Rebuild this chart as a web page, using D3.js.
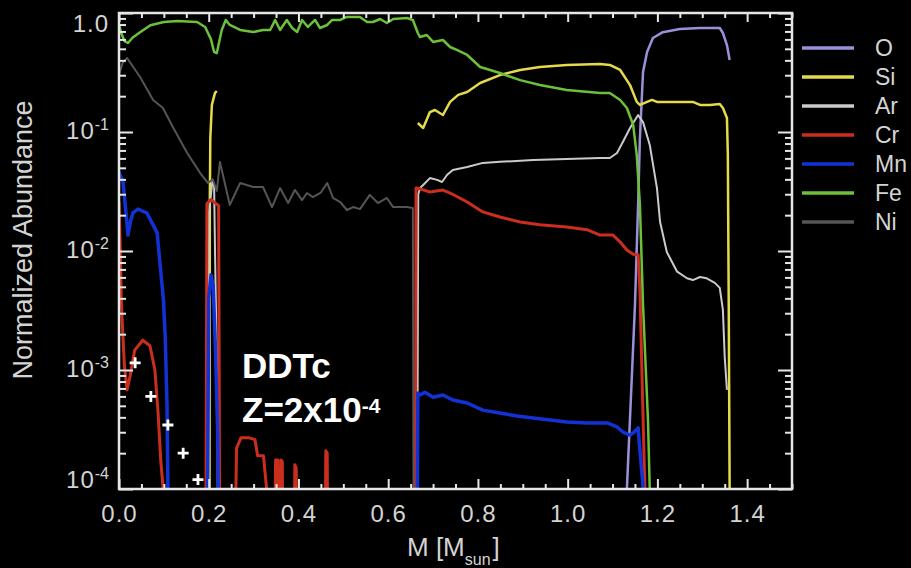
<!DOCTYPE html>
<html>
<head>
<meta charset="utf-8">
<script src="https://cdn.jsdelivr.net/npm/d3@7"></script>
<style>
  body { margin: 0; background: #000; }
  svg { display: block; }
</style>
</head>
<body>
<svg id="chart" width="911" height="568"></svg>
<script>
// Element abundance profiles vs. enclosed mass, [M (Msun), normalized abundance]
const elements = ["O", "Si", "Ar", "Cr", "Mn", "Fe", "Ni"];
const elementColors = ["#9d90d8", "#e4da4a", "#cacaca", "#cc2e1e", "#1232d6", "#6cc03a", "#555555"];
const lineWidths = [2.5, 2.5, 2, 3, 3.5, 2.5, 2];

const oAbund = [[1.128,1e-5],[1.132,1e-4],[1.15,3.5e-3],[1.157,0.0244],[1.161,0.089],[1.168,0.319],[1.177,0.47],
  [1.19,0.617],[1.212,0.69],[1.25,0.734],[1.295,0.748],[1.339,0.748],[1.346,0.679],[1.355,0.538],[1.361,0.403]];

const siAbund = [[0.2015,1e-5],[0.2025,0.03],[0.203,0.046],[0.2035,0.089],[0.207,0.169],[0.214,0.213],[0.218,0.221],
  [0.22,null],
  [0.666,0.119],[0.678,0.108],[0.693,0.147],[0.704,0.153],[0.722,0.139],[0.738,0.179],[0.756,0.205],[0.776,0.217],
  [0.805,0.258],[0.849,0.301],[0.894,0.332],[0.938,0.352],[0.998,0.366],[1.072,0.373],[1.094,0.366],[1.117,0.332],
  [1.139,0.248],[1.154,0.179],[1.161,0.169],[1.177,0.179],[1.188,0.186],[1.199,0.179],[1.235,0.179],[1.279,0.179],
  [1.295,0.169],[1.317,0.169],[1.339,0.172],[1.346,0.159],[1.355,0.131],[1.357,0.064],[1.359,3.5e-3],[1.361,1e-4],[1.363,1e-5]];

const arAbund = [[0.19,1e-5],[0.196,1e-5],[0.2,0.02],[0.208,0.038],[0.212,0.035],[0.214,0.01],[0.218,1.2e-3],[0.222,1e-5],
  [0.664,1e-5],[0.667,0.03],[0.671,0.0338],[0.678,0.0359],[0.693,0.041],[0.709,0.0396],[0.72,0.038],[0.731,0.0435],
  [0.744,0.048],[0.776,0.0508],[0.811,0.055],[0.849,0.0561],[0.923,0.0582],[0.998,0.0592],[1.072,0.0605],[1.094,0.0605],
  [1.11,0.0666],[1.123,0.0824],[1.139,0.108],[1.157,0.139],[1.168,0.121],[1.183,0.0778],[1.199,0.0338],[1.206,0.0175],
  [1.221,9.8e-3],[1.244,6.7e-3],[1.266,5.9e-3],[1.279,5.7e-3],[1.295,6.05e-3],[1.31,5.9e-3],[1.328,5.4e-3],[1.339,4.9e-3],
  [1.346,3.2e-3],[1.35,1.29e-3],[1.355,6.8e-4]];

const crAbund = [[0,0.026],[0.003,0.01],[0.005,4e-3],[0.008,2.2e-3],[0.012,1.1e-3],[0.018,6.8e-4],[0.025,9e-4],[0.035,1.47e-3],
  [0.053,1.78e-3],[0.069,1.6e-3],[0.08,1e-3],[0.087,4.4e-4],[0.093,1.75e-4],[0.098,1.04e-4],[0.1,1e-5],
  [0.193,1e-5],[0.196,0.025],[0.205,0.027],[0.222,0.024],[0.225,1e-5],
  [0.256,1e-5],[0.262,2.2e-4],[0.272,2.7e-4],[0.288,2.7e-4],[0.303,2.6e-4],[0.309,1.9e-4],[0.322,1.9e-4],[0.329,1e-4],[0.331,1e-5],
  [0.346,1e-5],[0.349,1.75e-4],[0.354,1.75e-4],[0.356,1e-5],[0.358,1e-5],[0.361,1.75e-4],[0.364,1.7e-4],[0.366,1e-5],
  [0.389,1e-5],[0.392,1.6e-4],[0.395,1.5e-4],[0.397,1e-5],[0.458,1e-5],[0.461,2.1e-4],[0.464,2.0e-4],[0.466,1e-5],
  [0.66,1e-5],[0.662,0.0339],[0.664,0.0339],[0.693,0.0313],[0.722,0.0325],[0.738,0.0307],[0.776,0.0258],[0.811,0.0213],
  [0.849,0.0193],[0.894,0.0175],[0.938,0.0166],[0.998,0.0159],[1.043,0.0151],[1.072,0.0136],[1.101,0.0136],[1.117,0.0119],
  [1.132,0.0102],[1.146,9.4e-3],[1.157,9.3e-3],[1.161,4.7e-3],[1.172,1e-4],[1.174,1e-5]];

const mnAbund = [[0,0.046],[0.009,0.038],[0.015,0.022],[0.02,0.0136],[0.026,0.018],[0.031,0.0209],[0.042,0.0225],[0.062,0.0209],
  [0.085,0.0142],[0.091,8.1e-3],[0.099,3.9e-3],[0.103,1.9e-3],[0.107,5.1e-4],[0.109,1.04e-4],[0.11,1e-5],
  [0.196,1e-5],[0.2,4e-3],[0.205,6.3e-3],[0.21,5e-3],[0.215,1.5e-3],[0.22,3e-4],[0.223,1e-5],
  [0.664,1e-5],[0.666,6.4e-4],[0.671,6.17e-4],[0.682,6.5e-4],[0.7,5.9e-4],[0.722,6.17e-4],[0.744,5.6e-4],[0.776,5.28e-4],
  [0.811,4.6e-4],[0.849,4.35e-4],[0.887,4.1e-4],[0.923,3.95e-4],[0.961,3.8e-4],[0.998,3.66e-4],[1.043,3.59e-4],[1.088,3.59e-4],
  [1.11,3.32e-4],[1.123,3.01e-4],[1.139,2.84e-4],[1.146,2.96e-4],[1.157,3.26e-4],[1.161,2.13e-4],[1.168,1.04e-4],[1.17,1e-5]];

const feAbund = [[0,0.8],[0.005,0.68],[0.012,0.58],[0.02,0.56],[0.03,0.62],[0.047,0.69],[0.07,0.79],[0.1,0.84],[0.13,0.857],
  [0.174,0.84],[0.192,0.763],[0.205,0.6],[0.212,0.47],[0.218,0.461],[0.229,0.72],[0.238,0.874],[0.247,0.793],[0.27,0.72],
  [0.299,0.692],[0.321,0.72],[0.337,0.72],[0.348,0.874],[0.359,0.72],[0.374,0.874],[0.386,0.748],[0.397,0.692],[0.408,0.874],
  [0.421,0.763],[0.437,0.874],[0.448,0.748],[0.464,0.793],[0.475,0.874],[0.493,0.874],[0.508,0.926],[0.537,0.926],[0.553,0.84],
  [0.566,0.84],[0.582,0.89],[0.597,0.824],[0.611,0.89],[0.642,0.908],[0.655,0.874],[0.666,0.679],[0.671,0.628],[0.686,0.653],
  [0.7,0.571],[0.722,0.593],[0.738,0.518],[0.753,0.489],[0.776,0.444],[0.805,0.352],[0.849,0.313],[0.894,0.273],[0.938,0.248],
  [0.998,0.225],[1.072,0.213],[1.094,0.213],[1.117,0.186],[1.132,0.159],[1.146,0.115],[1.154,0.064],[1.161,0.0244],
  [1.168,3.5e-3],[1.179,3.8e-4],[1.183,1e-4],[1.185,1e-5]];

const niAbund = [[0,0.3],[0.008,0.38],[0.018,0.419],[0.047,0.29],[0.076,0.186],[0.098,0.159],[0.12,0.11],[0.152,0.0666],
  [0.181,0.0452],[0.198,0.0373],[0.209,0.04],[0.218,0.032],[0.225,0.056],[0.247,0.0244],[0.27,0.0373],[0.299,0.0345],
  [0.321,0.0345],[0.341,0.0234],[0.359,0.0338],[0.377,0.0253],[0.392,0.0326],[0.408,0.0268],[0.419,0.0307],[0.432,0.0284],
  [0.45,0.031],[0.464,0.0373],[0.477,0.0279],[0.493,0.0258],[0.508,0.0221],[0.522,0.0234],[0.537,0.0225],[0.559,0.0296],
  [0.577,0.0253],[0.597,0.0279],[0.611,0.0234],[0.642,0.0234],[0.655,0.023],[0.657,1e-5]];

const profiles = [oAbund, siAbund, arAbund, crAbund, mnAbund, feAbund, niAbund];

// Solar-scaled reference points (white crosses)
const refMass = [0.036, 0.071, 0.109, 0.143, 0.176];
const refAbund = [1.15e-3, 6.0e-4, 3.45e-4, 2.0e-4, 1.2e-4];

// Axis ticks
const xMajor = [0, 0.2, 0.4, 0.6, 0.8, 1.0, 1.2, 1.4];
const xMinor = d3.range(0, 1.5001, 0.05).filter(v => Math.abs(v * 5 - Math.round(v * 5)) > 1e-6);
const yMajor = [1, 0.1, 0.01, 0.001, 0.0001];
const yExponents = ["", "-1", "-2", "-3", "-4"];
const yMinor = [];
[1e-4, 1e-3, 1e-2, 1e-1].forEach(dec => { for (let k = 2; k <= 9; k++) yMinor.push(dec * k); });

const svg = d3.select("#chart");
const FONT = "'Liberation Sans', Arial, Helvetica, sans-serif";
const TXT = "#d4d4d4";
const FRAME = "#e6e6e6";

const x = d3.scaleLinear().domain([0, 1.5]).range([119, 792]);
const y = d3.scaleLog().domain([1e-4, 1]).range([489, 13]);

svg.append("rect").attr("width", 911).attr("height", 568).attr("fill", "#000");

svg.append("defs").append("clipPath").attr("id", "plotArea")
  .append("rect").attr("x", x(0)).attr("y", y(1))
  .attr("width", x(1.5) - x(0)).attr("height", y(1e-4) - y(1));

// Curves
const line = d3.line()
  .defined(d => d[1] != null)
  .x(d => x(d[0]))
  .y(d => y(d[1]));

const curves = svg.append("g").attr("clip-path", "url(#plotArea)");
profiles.forEach((data, i) => {
  curves.append("path")
    .datum(data)
    .attr("d", line)
    .attr("fill", "none")
    .attr("stroke", elementColors[i])
    .attr("stroke-width", lineWidths[i])
    .attr("stroke-linejoin", "round");
});

// Reference crosses
const crosses = svg.append("g");
refMass.forEach((m, i) => {
  const cx = x(m), cy = y(refAbund[i]), r = 5.5;
  crosses.append("path")
    .attr("d", `M${cx - r},${cy}H${cx + r}M${cx},${cy - r}V${cy + r}`)
    .attr("stroke", "#fff").attr("stroke-width", 2.8);
});

// Axes (ticks point inward on all four sides)
function tidy(g) {
  g.select(".domain").remove();
  g.selectAll(".tick line").attr("stroke", FRAME).attr("stroke-width", 2);
}

const gBottom = svg.append("g").attr("transform", `translate(0,${y(1e-4)})`)
  .call(d3.axisBottom(x).tickValues(xMajor).tickSizeInner(-10).tickSizeOuter(0).tickPadding(16)
    .tickFormat(d3.format(".1f")));
tidy(gBottom);
gBottom.selectAll("text").attr("fill", TXT).attr("font-family", FONT).attr("font-size", 24)
  .attr("letter-spacing", 1);

svg.append("g").attr("transform", `translate(0,${y(1e-4)})`)
  .call(d3.axisBottom(x).tickValues(xMinor).tickSize(-5).tickFormat(""))
  .call(tidy);
svg.append("g").attr("transform", `translate(0,${y(1)})`)
  .call(d3.axisTop(x).tickValues(xMajor).tickSize(-9).tickFormat(""))
  .call(tidy);
svg.append("g").attr("transform", `translate(0,${y(1)})`)
  .call(d3.axisTop(x).tickValues(xMinor).tickSize(-5).tickFormat(""))
  .call(tidy);

const gLeft = svg.append("g").attr("transform", `translate(${x(0)},0)`)
  .call(d3.axisLeft(y).tickValues(yMajor).tickSizeInner(-14).tickSizeOuter(0).tickPadding(10).tickFormat(""));
tidy(gLeft);
gLeft.selectAll(".tick text").each(function (d, i) {
  const t = d3.select(this).text(null)
    .attr("fill", TXT).attr("font-family", FONT).attr("font-size", 24).attr("letter-spacing", 1)
    .attr("text-anchor", "end");
  const ty = y(d);
  const target = Math.min(Math.max(ty, 23), 479) - (d < 1 && d > 1e-4 ? 2 : 0);
  t.attr("dy", "0.36em").attr("y", target - ty);
  if (yExponents[i] === "") {
    t.text("1.0");
  } else {
    t.append("tspan").text("10");
    t.append("tspan").text(yExponents[i]).attr("font-size", 16).attr("dy", -9).attr("letter-spacing", 0);
  }
});
svg.append("g").attr("transform", `translate(${x(0)},0)`)
  .call(d3.axisLeft(y).tickValues(yMinor).tickSize(-7).tickFormat(""))
  .call(tidy);
svg.append("g").attr("transform", `translate(${x(1.5)},0)`)
  .call(d3.axisRight(y).tickValues(yMajor).tickSize(-14).tickFormat(""))
  .call(tidy);
svg.append("g").attr("transform", `translate(${x(1.5)},0)`)
  .call(d3.axisRight(y).tickValues(yMinor).tickSize(-7).tickFormat(""))
  .call(tidy);

// Frame
svg.append("rect")
  .attr("x", x(0)).attr("y", y(1))
  .attr("width", x(1.5) - x(0)).attr("height", y(1e-4) - y(1))
  .attr("fill", "none").attr("stroke", FRAME).attr("stroke-width", 2.5);

// Axis titles
const xTitle = svg.append("text")
  .attr("x", 407).attr("y", 556)
  .attr("fill", TXT).attr("font-family", FONT).attr("font-size", 26);
xTitle.append("tspan").text("M [M");
xTitle.append("tspan").text("sun").attr("font-size", 16).attr("dy", 9);
xTitle.append("tspan").text("]").attr("dy", -9).attr("dx", 2);

svg.append("text")
  .attr("transform", "translate(32,240) rotate(-90)")
  .attr("text-anchor", "middle")
  .attr("fill", TXT).attr("font-family", FONT).attr("font-size", 27)
  .text("Normalized Abundance");

// Model annotation
svg.append("text")
  .attr("x", 242).attr("y", 378)
  .attr("fill", "#fff").attr("font-family", FONT).attr("font-weight", "bold").attr("font-size", 35)
  .text("DDTc");
const zLabel = svg.append("text")
  .attr("x", 242).attr("y", 422)
  .attr("fill", "#fff").attr("font-family", FONT).attr("font-weight", "bold").attr("font-size", 35);
zLabel.append("tspan").text("Z=2x10");
zLabel.append("tspan").text("-4").attr("font-size", 21).attr("dy", -9);

// Legend
const legend = svg.append("g");
elements.forEach((name, i) => {
  const ly = 48 + i * 29;
  legend.append("line")
    .attr("x1", 802).attr("x2", 854).attr("y1", ly).attr("y2", ly)
    .attr("stroke", elementColors[i]).attr("stroke-width", 3.5);
  legend.append("text")
    .attr("x", 875).attr("y", ly).attr("dy", "0.36em")
    .attr("fill", TXT).attr("font-family", FONT).attr("font-size", 23)
    .text(name);
});
</script>
</body>
</html>
